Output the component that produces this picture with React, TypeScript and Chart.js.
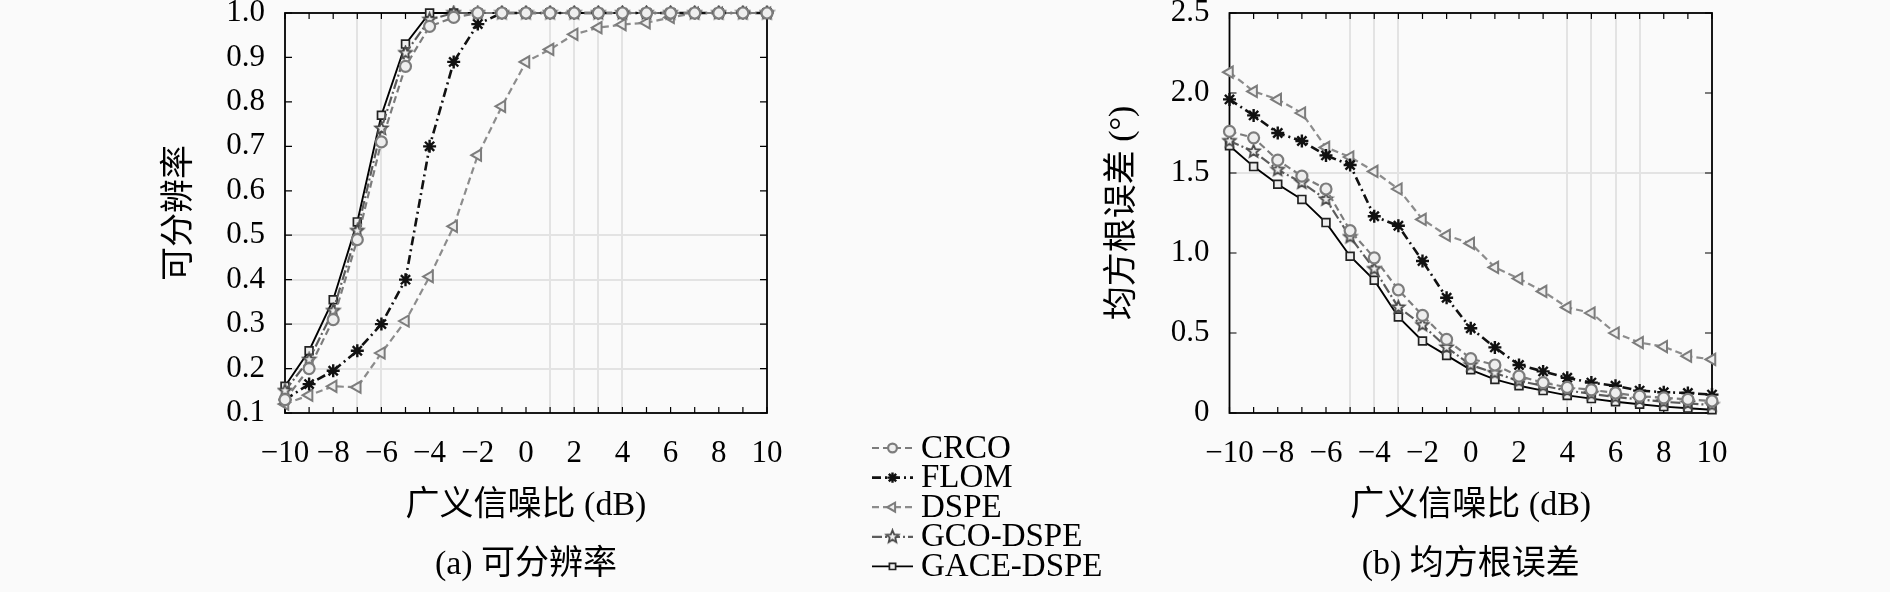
import { useEffect, useRef } from 'react';
import { Chart, registerables } from 'chart.js';
import { drawPoint } from 'chart.js/helpers';

Chart.register(...registerables);

const FONT = "'Liberation Serif', 'Noto Sans CJK SC', serif";

// generalized SNR (dB)
const snr = [-10, -9, -8, -7, -6, -5, -4, -3, -2, -1, 0, 1, 2, 3, 4, 5, 6, 7, 8, 9, 10];
const seriesNames = ['CRCO', 'FLOM', 'DSPE', 'GCO-DSPE', 'GACE-DSPE'];

// (a) resolution probability
const resCRCO = [0.13, 0.2, 0.31, 0.49, 0.71, 0.88, 0.97, 0.99, 1, 1, 1, 1, 1, 1, 1, 1, 1, 1, 1, 1, 1];
const resFLOM = [0.13, 0.165, 0.195, 0.24, 0.3, 0.4, 0.7, 0.89, 0.975, 1, 1, 1, 1, 1, 1, 1, 1, 1, 1, 1, 1];
const resDSPE = [0.12, 0.14, 0.16, 0.158, 0.235, 0.307, 0.407, 0.52, 0.68, 0.79, 0.89, 0.918, 0.952, 0.967, 0.974, 0.978, 0.99, 1, 1, 1, 1];
const resGCO = [0.15, 0.22, 0.33, 0.51, 0.74, 0.91, 0.985, 1, 1, 1, 1, 1, 1, 1, 1, 1, 1, 1, 1, 1, 1];
const resGACE = [0.16, 0.24, 0.355, 0.53, 0.77, 0.93, 1, 1, 1, 1, 1, 1, 1, 1, 1, 1, 1, 1, 1, 1, 1];

// (b) RMSE (deg)
const rmseCRCO = [1.76, 1.72, 1.58, 1.48, 1.4, 1.14, 0.97, 0.77, 0.61, 0.46, 0.34, 0.3, 0.23, 0.19, 0.16, 0.145, 0.125, 0.105, 0.095, 0.085, 0.075];
const rmseFLOM = [1.96, 1.86, 1.75, 1.7, 1.61, 1.55, 1.23, 1.17, 0.95, 0.72, 0.53, 0.41, 0.3, 0.26, 0.22, 0.19, 0.17, 0.14, 0.13, 0.125, 0.115];
const rmseDSPE = [2.13, 2.01, 1.96, 1.875, 1.66, 1.6, 1.51, 1.4, 1.21, 1.11, 1.06, 0.91, 0.84, 0.76, 0.66, 0.625, 0.5, 0.44, 0.415, 0.355, 0.335];
const rmseGCO = [1.7, 1.635, 1.52, 1.44, 1.335, 1.1, 0.9, 0.66, 0.55, 0.41, 0.3, 0.25, 0.2, 0.17, 0.14, 0.12, 0.1, 0.085, 0.07, 0.06, 0.05];
const rmseGACE = [1.67, 1.54, 1.43, 1.335, 1.19, 0.98, 0.83, 0.6, 0.45, 0.36, 0.27, 0.21, 0.17, 0.14, 0.11, 0.09, 0.07, 0.055, 0.04, 0.03, 0.02];

const xLabelValues = [-10, -8, -6, -4, -2, 0, 2, 4, 6, 8, 10];
const resGridX = [-7, -6, 1, 2, 3, 4];
const resGridY = [0.2, 0.3, 0.4, 0.5];
const rmseGridX = [-5, -4, -3, 4, 5, 6, 7];
const rmseGridY = [1.5];

const GRID = '#e3e3e3';
const BG = '#fafafa';

function pentagram(color: string, r: number) {
    const c = document.createElement('canvas');
    const s = Math.ceil(r * 2 + 4);
    c.width = s;
    c.height = s;
    const g = c.getContext('2d')!;
    g.translate(s / 2, s / 2);
    g.beginPath();
    for (let i = 0; i < 10; i++) {
        const rad = i % 2 === 0 ? r : r * 0.45;
        const ang = -Math.PI / 2 + (i * Math.PI) / 5;
        g.lineTo(rad * Math.cos(ang), rad * Math.sin(ang));
    }
    g.closePath();
    g.fillStyle = '#eeeeee';
    g.fill();
    g.strokeStyle = color;
    g.lineWidth = 1.8;
    g.stroke();
    return c;
}

function seriesStyles(): any[] {
    return [
        { borderColor: '#7c7c7c', borderWidth: 2.2, borderDash: [7, 4], pointStyle: 'circle', pointRadius: 5.5, pointBorderColor: '#7c7c7c', pointBackgroundColor: '#eeeeee', pointBorderWidth: 2.2 },
        { borderColor: '#111111', borderWidth: 2.6, borderDash: [9, 4, 2, 4], pointStyle: 'star', pointRadius: 6.5, pointBorderColor: '#111111', pointBackgroundColor: '#111111', pointBorderWidth: 2.4 },
        { borderColor: '#8c8c8c', borderWidth: 2.2, borderDash: [7, 4], pointStyle: 'triangle', pointRotation: -90, pointRadius: 6.5, pointBorderColor: '#7c7c7c', pointBackgroundColor: '#eeeeee', pointBorderWidth: 2 },
        { borderColor: '#5c5c5c', borderWidth: 2.2, borderDash: [10, 3, 2, 3], pointStyle: pentagram('#4a4a4a', 6.5), pointRadius: 6.5, pointBorderColor: '#4a4a4a', pointBackgroundColor: '#eeeeee', pointBorderWidth: 1.8 },
        { borderColor: '#000000', borderWidth: 1.9, borderDash: [], pointStyle: 'rect', pointRadius: 5.5, pointBorderColor: '#222222', pointBackgroundColor: '#eeeeee', pointBorderWidth: 1.7 },
    ];
}

const near = (list: number[], v: number) => list.some((g) => Math.abs(g - v) < 1e-6);
const minus = (v: number) => (v < 0 ? '\u2212' + Math.abs(v) : String(v));

// frame with inward ticks on all four sides
const framePlugin = {
    id: 'frame',
    beforeDatasetsDraw(chart: any) {
        const { ctx, chartArea: a, scales } = chart;
        ctx.save();
        ctx.strokeStyle = '#000';
        ctx.lineWidth = 1.2;
        ctx.beginPath();
        scales.x.ticks.forEach((t: any) => {
            const px = scales.x.getPixelForValue(t.value);
            ctx.moveTo(px, a.bottom);
            ctx.lineTo(px, a.bottom - 6);
            ctx.moveTo(px, a.top);
            ctx.lineTo(px, a.top + 6);
        });
        scales.y.ticks.forEach((t: any) => {
            const py = scales.y.getPixelForValue(t.value);
            ctx.moveTo(a.left, py);
            ctx.lineTo(a.left + 7, py);
            ctx.moveTo(a.right, py);
            ctx.lineTo(a.right - 7, py);
        });
        ctx.stroke();
        ctx.lineWidth = 1.8;
        ctx.strokeRect(a.left, a.top, a.right - a.left, a.bottom - a.top);
        ctx.restore();
    },
};

const captionPlugin = {
    id: 'caption',
    afterDraw(chart: any, _args: any, opts: any) {
        const { ctx, chartArea: a } = chart;
        ctx.save();
        ctx.fillStyle = '#000';
        ctx.font = `34px ${FONT}`;
        ctx.textAlign = 'center';
        ctx.textBaseline = 'middle';
        ctx.fillText(opts.text, (a.left + a.right) / 2, 565);
        ctx.restore();
    },
};

const legendPlugin = {
    id: 'sharedLegend',
    afterDraw(chart: any) {
        const { ctx } = chart;
        chart.data.datasets.forEach((ds: any, i: number) => {
            const y = 448 + i * 29.6;
            ctx.save();
            ctx.strokeStyle = ds.borderColor;
            ctx.lineWidth = ds.borderWidth;
            ctx.setLineDash(ds.borderDash);
            ctx.beginPath();
            ctx.moveTo(872, y);
            ctx.lineTo(913, y);
            ctx.stroke();
            ctx.setLineDash([]);
            ctx.fillStyle = ds.pointBackgroundColor;
            ctx.strokeStyle = ds.pointBorderColor;
            ctx.lineWidth = ds.pointBorderWidth;
            drawPoint(ctx, { pointStyle: ds.pointStyle, rotation: ds.pointRotation || 0, radius: ds.pointRadius * 0.8, borderWidth: ds.pointBorderWidth } as any, 892.5, y);
            ctx.fillStyle = '#000';
            ctx.font = `33px ${FONT}`;
            ctx.textAlign = 'left';
            ctx.textBaseline = 'middle';
            ctx.fillText(ds.label, 921, y + 1);
            ctx.restore();
        });
    },
};

interface PanelOpts {
    series: number[][];
    yMin: number;
    yMax: number;
    yStep: number;
    yTitle: string;
    yFormat: (v: number) => string;
    gridX: number[];
    gridY: number[];
    caption: string;
    yWidth: number;
    titlePadTop: number;
    padRight: number;
    legend: boolean;
}

function buildConfig(p: PanelOpts): any {
    const styles = seriesStyles();
    return {
        type: 'line',
        data: {
            datasets: p.series.map((vals, i) => ({
                label: seriesNames[i],
                data: snr.map((x, k) => ({ x, y: vals[k] })),
                tension: 0,
                clip: false,
                ...styles[i],
            })),
        },
        options: {
            responsive: false,
            animation: false,
            layout: { padding: { left: 0, top: 13, right: p.padRight, bottom: 44 } },
            plugins: {
                legend: { display: false },
                tooltip: { enabled: false },
                caption: { text: p.caption },
            },
            scales: {
                x: {
                    type: 'linear',
                    min: -10,
                    max: 10,
                    ticks: {
                        stepSize: 1,
                        maxTicksLimit: 100,
                        autoSkip: false,
                        maxRotation: 0,
                        padding: 22,
                        color: '#000',
                        font: { family: FONT, size: 31 },
                        callback: (v: number) => (xLabelValues.includes(v) ? minus(v) : ''),
                    },
                    grid: {
                        drawTicks: false,
                        lineWidth: 2,
                        color: (c: any) => (c.tick && near(p.gridX, c.tick.value) ? GRID : 'transparent'),
                    },
                    border: { display: false },
                    title: {
                        display: true,
                        text: '广义信噪比 (dB)',
                        color: '#000',
                        font: { family: FONT, size: 34 },
                        padding: { top: 0, bottom: 22 },
                    },
                    afterFit: (s: any) => {
                        s.height = 135;
                    },
                },
                y: {
                    type: 'linear',
                    min: p.yMin,
                    max: p.yMax,
                    ticks: {
                        stepSize: p.yStep,
                        maxTicksLimit: 100,
                        padding: 20,
                        color: '#000',
                        font: { family: FONT, size: 31 },
                        callback: (v: number) => p.yFormat(v),
                    },
                    grid: {
                        drawTicks: false,
                        lineWidth: 2,
                        color: (c: any) => (c.tick && near(p.gridY, c.tick.value) ? GRID : 'transparent'),
                    },
                    border: { display: false },
                    title: {
                        display: true,
                        text: p.yTitle,
                        color: '#000',
                        font: { family: FONT, size: 34 },
                        padding: { top: p.titlePadTop, bottom: 0 },
                    },
                    afterFit: (s: any) => {
                        s.width = p.yWidth;
                        s.paddingTop = 0;
                        s.paddingBottom = 0;
                    },
                },
            },
        },
        plugins: p.legend ? [framePlugin, captionPlugin, legendPlugin] : [framePlugin, captionPlugin],
    };
}

export default function App() {
    const leftRef = useRef<HTMLCanvasElement | null>(null);
    const rightRef = useRef<HTMLCanvasElement | null>(null);

    useEffect(() => {
        if (!leftRef.current || !rightRef.current) return;

        const left = new Chart(
            leftRef.current,
            buildConfig({
                series: [resCRCO, resFLOM, resDSPE, resGCO, resGACE],
                yMin: 0.1,
                yMax: 1.0,
                yStep: 0.1,
                yTitle: '可分辨率',
                yFormat: (v) => v.toFixed(1),
                gridX: resGridX,
                gridY: resGridY,
                caption: '(a) 可分辨率',
                yWidth: 285,
                titlePadTop: 160,
                padRight: 1125 - 767,
                legend: true,
            })
        );

        const right = new Chart(
            rightRef.current,
            buildConfig({
                series: [rmseCRCO, rmseFLOM, rmseDSPE, rmseGCO, rmseGACE],
                yMin: 0,
                yMax: 2.5,
                yStep: 0.5,
                yTitle: '均方根误差 (°)',
                yFormat: (v) => (Math.abs(v) < 1e-9 ? '0' : v.toFixed(1)),
                gridX: rmseGridX,
                gridY: rmseGridY,
                caption: '(b) 均方根误差',
                yWidth: 129.5,
                titlePadTop: 3,
                padRight: 790 - 612,
                legend: false,
            })
        );

        return () => {
            left.destroy();
            right.destroy();
        };
    }, []);

    return (
        <div style={{ position: 'absolute', left: 0, top: 0, width: 1890, height: 592, background: BG, overflow: 'hidden' }}>
            <canvas ref={leftRef} width={1125} height={592} style={{ position: 'absolute', left: 0, top: 0 }} />
            <canvas ref={rightRef} width={790} height={592} style={{ position: 'absolute', left: 1100, top: 0 }} />
        </div>
    );
}
